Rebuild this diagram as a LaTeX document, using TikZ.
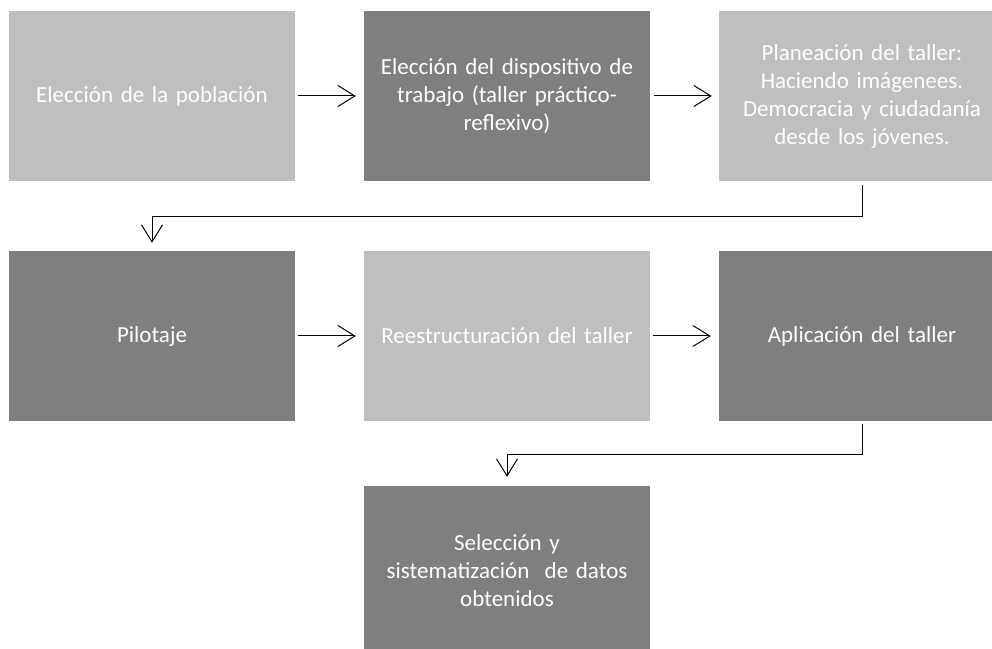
\documentclass[tikz,border=0pt]{standalone}
\usepackage{fontspec}
\setmainfont{Carlito}
\usetikzlibrary{arrows.meta}
\definecolor{boxlight}{HTML}{BFBFBF}
\definecolor{boxdark}{HTML}{7F7F7F}
\begin{document}
\begin{tikzpicture}[x=1pt,y=1pt,
  box/.style={minimum width=286pt,minimum height=170pt,inner sep=0pt,text width=276pt,align=center,
    text=white,font=\fontsize{23}{28}\selectfont},
  lightbox/.style={box,fill=boxlight},
  darkbox/.style={box,fill=boxdark},
  arr/.style={draw=black,line width=1pt,-{Straight Barb[length=17pt,width=21pt,line width=1pt]}}]
\useasboundingbox (0,0) rectangle (992,648);
\clip (0,0) rectangle (992,648);
\node[lightbox] (b1) at (152,552) {Elección de la población};
\node[darkbox]  (b2) at (507,552) {Elección del dispositivo de\\trabajo (taller práctico-\\reflexivo)};
\node[lightbox] (b3) at (862,552) {Planeación del taller:\\Haciendo imágenees.\\Democracia y ciudadanía\\desde los jóvenes.};
\node[darkbox]  (b4) at (152,312) {Pilotaje};
\node[lightbox] (b5) at (507,312) {Reestructuración del taller};
\node[darkbox]  (b6) at (862,312) {Aplicación del taller};
\node[darkbox]  (b7) at (507,77) {Selección y\\sistematización\ \ de datos\\obtenidos};
\draw[arr] ([xshift=3pt]b1.east) -- ([xshift=-8pt]b2.west);
\draw[arr] ([xshift=4pt]b2.east) -- ([xshift=-7pt]b3.west);
\draw[arr] ([xshift=3pt]b4.east) -- ([xshift=-8pt]b5.west);
\draw[arr] ([xshift=3pt]b5.east) -- ([xshift=-8pt]b6.west);
\draw[arr] ([yshift=-4pt]b3.south) -- ++(0,-31) -| ([yshift=8pt]b4.north);
\draw[arr] ([yshift=-3pt]b6.south) -- ++(0,-30) -| ([yshift=9pt]b7.north);
\end{tikzpicture}
\end{document}
